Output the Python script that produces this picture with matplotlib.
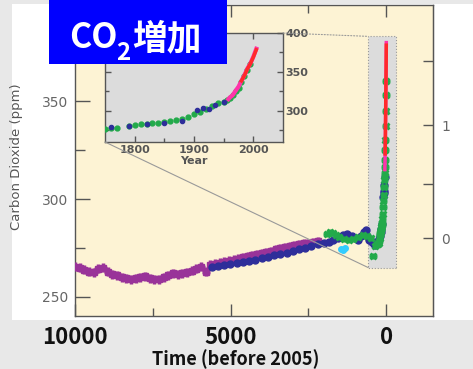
import numpy as np
import matplotlib
matplotlib.use('Agg')
import matplotlib.pyplot as plt
from matplotlib.patches import Rectangle, ConnectionPatch
from matplotlib.ticker import FixedLocator

# Ледовый керн (возраст до 2005 г.), фиолетовые метки
purple_age = [10000, 9850, 9700, 9550, 9400, 9250, 9100, 8950, 8800, 8650, 8500, 8350, 8200,
              8050, 7900, 7750, 7600, 7450, 7300, 7150, 7000, 6850, 6700, 6550, 6400, 6250,
              6100, 5950, 5800, 5650, 5500, 5350, 5200, 5050, 4900, 4750, 4600, 4450, 4300,
              4150, 4000, 3850, 3700, 3550, 3400, 3250, 3100, 2950, 2800, 2650, 2500, 2350, 2200]
purple_co2 = [265.5, 265, 264, 263, 262.5, 264.5, 265, 263, 261.5, 261, 260, 259.5, 259,
              259.5, 260, 260.5, 259.5, 259, 259, 260, 261, 262, 261.5, 262, 262.5, 263.5,
              264.5, 265.5, 263, 266.5, 267, 267.5, 268, 268.5, 269, 269.5, 270.5, 271, 271.5,
              272, 272.5, 273, 273.5, 274.5, 275, 275.5, 276, 276.5, 277, 277.5, 277.5, 278, 278.5]

# Синие точки (год н.э.)
blue_year = [-3600, -3400, -3200, -3000, -2800, -2600, -2400, -2200, -2000, -1800, -1600, -1400,
             -1200, -1000, -800, -600, -400, -200, 0, 150, 300, 450, 600, 750, 900, 1000, 1100,
             1200, 1300, 1350, 1400, 1450, 1500, 1550, 1600, 1650, 1700, 1730, 1760, 1790, 1820,
             1850, 1880, 1905, 1915, 1925, 1935, 1950]
blue_co2 = [265.5, 266, 266.5, 267, 267.5, 268, 268.5, 269, 270, 270.5, 271.5, 272,
            272.5, 273.5, 274.5, 275, 276, 277, 277.5, 278, 279, 280, 281.5, 282, 281, 280, 279,
            281, 283, 284, 281, 279, 278.5, 278, 277, 276.5, 277, 278.5, 279.5, 281, 283,
            284.5, 287, 301, 304, 303, 307, 311]

# Зелёные точки (год н.э.)
green_year = [100, 200, 300, 400, 500, 650, 800, 950, 1100, 1250, 1400, 1500, 1585, 1650, 1700,
              1750, 1760, 1770, 1790, 1800, 1810, 1820, 1830, 1840, 1850, 1860, 1870, 1880,
              1890, 1900, 1910, 1920, 1930, 1940, 1950, 1955, 1960, 1965, 1970, 1975, 1980,
              1985, 1990, 1995]
green_co2 = [282, 283, 282.5, 281.5, 280.5, 279.5, 279, 279.5, 280.5, 281.5, 281, 280, 271, 276, 277,
             277, 277.5, 278.5, 280, 281.5, 282.5, 283.5, 284, 284.5, 285.5, 286.5, 288, 290,
             292.5, 296, 299, 302, 306, 309.5, 311.5, 313.5, 316.5, 320, 325, 330, 337,
             345, 353, 360]

cyan_year = [560, 620, 680]
cyan_co2 = [274.5, 274, 275]

# Прямые измерения
magenta_year = [1958, 1960, 1965, 1970, 1975, 1980, 1985, 1990, 1995, 2000, 2005]
magenta_co2 = [315, 316.9, 320, 325.7, 331, 338.7, 346, 354.4, 360.9, 369.5, 379.8]
red_year = [1968, 1975, 1980, 1985, 1990, 1995, 2000, 2005]
red_co2 = [323, 331, 338.5, 345.5, 354, 360.5, 369, 378.5]

main_xticks = [10000, 5000, 0]
main_xlabels = ['10000', '5000', '0']
zoom_box = (-320, 580, 265, 383)

PURPLE = '#993399'
BLUE = '#2e2e9a'
GREEN = '#22aa4a'
CYAN = '#33ccff'
MAGENTA = '#ff33aa'
RED = '#ff2a2a'
SPINE = '#555555'

W, H = 473, 369


def fx(px):
    return px / W


def fy(py):
    return 1 - py / H


def to_age(years):
    return [2005 - y for y in years]


def forcing(c):
    return 5.35 * np.log(np.maximum(c, 1e-3) / 280.0)


def from_forcing(f):
    return 280.0 * np.exp(f / 5.35)


fig = plt.figure(figsize=(W / 100, H / 100), dpi=100, facecolor='#e8e8e8')
fig.add_artist(Rectangle((fx(12), fy(320)), 1 - fx(12), (320 - 4) / H,
                         transform=fig.transFigure, facecolor='white', edgecolor='none', zorder=-5))

# Основной график
ax = fig.add_axes([fx(75), fy(316), (433 - 75) / W, (316 - 5) / H])
ax.set_facecolor('#fdf3d4')
ax.set_xlim(10000, -1500)
ax.set_ylim(240.3, 399)

x0, x1, y0, y1 = zoom_box
ax.add_patch(Rectangle((x0, y0), x1 - x0, y1 - y0, facecolor='#dcdcdc', edgecolor='#999999',
                       linestyle=':', linewidth=0.8, zorder=1))

ax.errorbar(purple_age, purple_co2, xerr=125, yerr=2.2, fmt='s', ms=4, color=PURPLE,
            elinewidth=2.5, capsize=0, zorder=3)
ax.errorbar(to_age(blue_year), blue_co2, xerr=90, fmt='o', ms=5, color=BLUE,
            elinewidth=3.5, capsize=0, zorder=4)
ax.errorbar(to_age(green_year), green_co2, xerr=120, yerr=1.5, fmt='x', ms=4.5, mew=2,
            color=GREEN, elinewidth=2, capsize=0, zorder=5)
ax.plot(to_age(cyan_year), cyan_co2, 'o', ms=4, color=CYAN, zorder=4)
ax.plot(to_age(magenta_year), magenta_co2, color=MAGENTA, lw=2.5, zorder=6)
ax.plot(to_age(red_year), red_co2, color=RED, lw=2.5, zorder=7)

ax.set_xticks(main_xticks)
ax.set_xticklabels(main_xlabels, fontfamily='Noto Sans CJK JP', fontweight='bold',
                   fontsize=16, color='#111111')
ax.xaxis.set_minor_locator(FixedLocator([7500, 2500]))
ax.set_yticks([250, 300, 350])
ax.yaxis.set_minor_locator(FixedLocator([275, 325, 375]))
ax.tick_params(axis='x', which='both', direction='in', top=True, color=SPINE, width=1, pad=7)
ax.tick_params(axis='x', which='major', length=8.5)
ax.tick_params(axis='x', which='minor', length=6)
ax.tick_params(axis='y', which='both', direction='in', right=False, color=SPINE, width=1,
               labelsize=10, labelcolor='#666666', pad=5)
ax.tick_params(axis='y', which='major', length=10.5)
ax.tick_params(axis='y', which='minor', length=7.5)
for s in ax.spines.values():
    s.set_color(SPINE)
    s.set_linewidth(1)

ax.set_ylabel('Carbon Dioxide (ppm)', fontsize=9.5, color='#555555')
ax.yaxis.set_label_coords(-0.145, 0.513)

sec = ax.secondary_yaxis('right', functions=(forcing, from_forcing))
sec.set_yticks([0, 1])
sec.yaxis.set_minor_locator(FixedLocator([0.5, 1.5]))
sec.tick_params(which='both', direction='in', length=7, width=1, color=SPINE,
                labelsize=10, labelcolor='#666666', pad=6)
sec.spines['right'].set_color(SPINE)

fig.text(fx(236), fy(365), 'Time (before 2005)', fontfamily='Noto Sans CJK JP',
         fontweight='bold', fontsize=13, ha='center', va='baseline', color='#111111')

# Врезка 1750–2005
ins = fig.add_axes([fx(105), fy(142), (283 - 105) / W, (142 - 33) / H])
ins.set_facecolor('#dcdcdc')
ins.set_xlim(1750, 2050)
ins.set_ylim(260, 400)
ins.errorbar(green_year, green_co2, fmt='o', ms=3.5, color=GREEN, zorder=3)
ins.errorbar(blue_year, blue_co2, yerr=2.5, fmt='o', ms=3, color=BLUE, elinewidth=1,
             capsize=0, zorder=4)
ins.plot(magenta_year, magenta_co2, color=MAGENTA, lw=3, zorder=5)
ins.plot(red_year[2:], red_co2[2:], color=RED, lw=2.5, zorder=6)
ins.set_xticks([1800, 1900, 2000])
ins.xaxis.set_minor_locator(FixedLocator([1850, 1950]))
ins.set_yticks([300, 350, 400])
ins.yaxis.set_minor_locator(FixedLocator([275, 325, 375]))
ins.yaxis.tick_right()
ins.tick_params(which='both', direction='in', left=True, right=True, top=True, bottom=True,
                labelleft=False, labelright=True, color=SPINE, width=1, labelsize=8,
                labelcolor='#555555')
ins.tick_params(which='major', length=4.5, pad=2)
ins.tick_params(which='minor', length=3)
for lab in ins.get_xticklabels() + ins.get_yticklabels():
    lab.set_fontweight('bold')
ins.set_xlabel('Year', fontsize=8, fontweight='bold', color='#555555', labelpad=1)
for s in ins.spines.values():
    s.set_color(SPINE)
    s.set_linewidth(1)

con1 = ConnectionPatch(xyA=(0, 0), coordsA=ins.transAxes, xyB=(x1, y0), coordsB=ax.transData,
                       color='#999999', lw=0.8, zorder=2)
con2 = ConnectionPatch(xyA=(1, 1), coordsA=ins.transAxes, xyB=(x1, y1), coordsB=ax.transData,
                       color='#999999', lw=0.8, linestyle=':', zorder=2)
fig.add_artist(con1)
fig.add_artist(con2)

# Заголовок
fig.add_artist(Rectangle((fx(49), fy(64)), (227 - 49) / W, 64 / H, transform=fig.transFigure,
                         facecolor='#0000ff', edgecolor='none', zorder=10))
fig.text(fx(69), fy(48), 'CO', fontfamily='Noto Sans CJK JP', fontweight='bold',
         fontsize=24.5, color='white', va='baseline', zorder=11)
fig.text(fx(116), fy(60), '2', fontfamily='Noto Sans CJK JP', fontweight='bold',
         fontsize=17.5, color='white', va='baseline', zorder=11)
fig.text(fx(132), fy(49), '増加', fontfamily='Noto Sans CJK JP', fontweight='bold',
         fontsize=25, color='white', va='baseline', zorder=11)

fig.savefig('out.png', dpi=100, facecolor=fig.get_facecolor())
